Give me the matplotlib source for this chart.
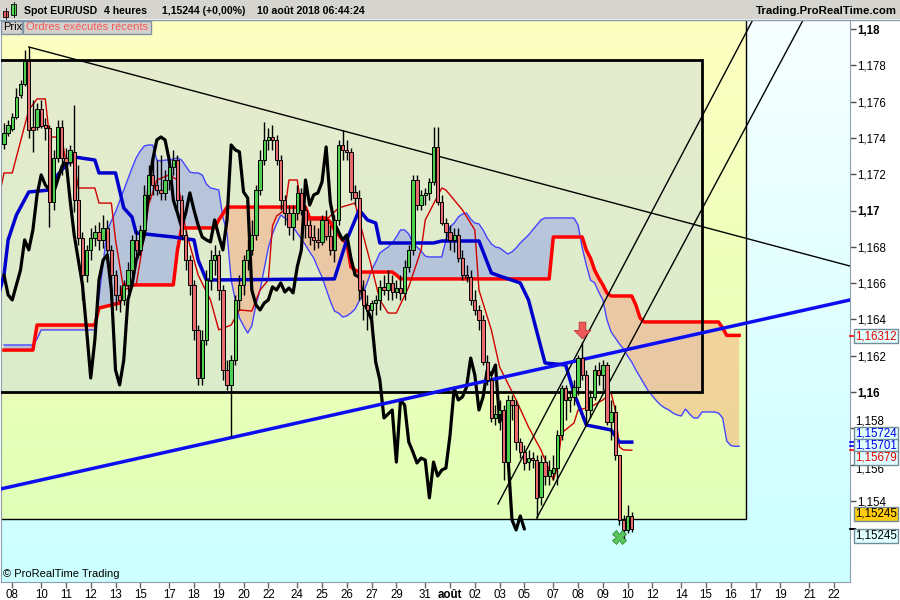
import numpy as np
import matplotlib
matplotlib.use('Agg')
import matplotlib.pyplot as plt
from matplotlib.patches import Rectangle
from matplotlib.lines import Line2D
from matplotlib.path import Path

plt.rcParams['font.family'] = ['Liberation Sans', 'DejaVu Sans']

# ------------------------------------------------------------------ data
# 4h candles, index 0 = first visible candle (6 Jul 2018) ... 152 = current (10 Aug 06:00)
open_ = [1.17367,1.17427,1.17449,1.17515,1.17637,1.17697,1.17824,1.17460,1.17460,1.17559,
         1.17471,1.17455,1.17047,1.17290,1.17460,1.17290,1.17267,1.17323,1.17058,1.16849,
         1.16645,1.16783,1.16849,1.16882,1.16838,1.16904,1.16783,1.16645,1.16535,1.16507,
         1.16590,1.16672,1.16838,1.16783,1.16893,1.17086,1.17196,1.17141,1.17113,1.17097,
         1.17168,1.17240,1.17278,1.17058,1.16865,1.16727,1.16590,1.16342,1.16077,1.16287,
         1.16617,1.16727,1.16755,1.16562,1.16121,1.16039,1.16176,1.16507,1.16590,1.16727,
         1.16783,1.16865,1.17113,1.17278,1.17389,1.17405,1.17389,1.17278,1.17058,1.16986,
         1.16909,1.16986,1.17097,1.17003,1.16920,1.16854,1.16838,1.16827,1.16948,1.16860,
         1.16783,1.16948,1.17361,1.17334,1.17323,1.17102,1.17069,1.16562,1.16480,1.16452,
         1.16490,1.16507,1.16579,1.16562,1.16601,1.16551,1.16573,1.16546,1.16689,1.16783,
         1.17168,1.17030,1.17086,1.17097,1.17157,1.17350,1.17047,1.16931,1.16882,1.16838,
         1.16865,1.16738,1.16645,1.16634,1.16507,1.16452,1.16397,1.16165,1.16066,1.15857,
         1.15879,1.15901,1.15614,1.15956,1.15928,1.15725,1.15670,1.15614,1.15636,1.15625,
         1.15422,1.15614,1.15537,1.15554,1.15581,1.15763,1.16022,1.15956,1.15973,1.16028,
         1.16187,1.16094,1.15901,1.15973,1.16121,1.16094,1.16149,1.15835,1.15890,1.15653,
         1.15295,1.15240,1.15317]
high = [1.17482,1.17499,1.17537,1.17675,1.17719,1.17884,1.17901,1.17609,1.17592,1.17609,
        1.17510,1.17471,1.17334,1.17499,1.17499,1.17345,1.17361,1.17581,1.17251,1.16882,
        1.16810,1.16904,1.16920,1.16937,1.16975,1.16948,1.16810,1.16672,1.16590,1.16617,
        1.16716,1.16865,1.16893,1.16920,1.17141,1.17251,1.17290,1.17278,1.17306,1.17223,
        1.17278,1.17334,1.17306,1.17086,1.16893,1.16755,1.16617,1.16369,1.16342,1.16672,
        1.16783,1.16810,1.16783,1.16590,1.16176,1.16204,1.16535,1.16645,1.16755,1.16838,
        1.16948,1.17141,1.17334,1.17488,1.17455,1.17471,1.17416,1.17306,1.17086,1.17030,
        1.17030,1.17141,1.17124,1.17030,1.16948,1.16920,1.16904,1.16975,1.17003,1.16920,
        1.16975,1.17389,1.17444,1.17389,1.17345,1.17141,1.17113,1.16617,1.16535,1.16507,
        1.16535,1.16617,1.16645,1.16672,1.16645,1.16617,1.16645,1.16727,1.16810,1.17196,
        1.17196,1.17113,1.17124,1.17179,1.17460,1.17460,1.17086,1.16959,1.16920,1.16904,
        1.16904,1.16783,1.16700,1.16672,1.16562,1.16480,1.16424,1.16204,1.16094,1.15928,
        1.15956,1.15928,1.15983,1.15983,1.15956,1.15747,1.15708,1.15681,1.15670,1.15653,
        1.15653,1.15653,1.15625,1.15653,1.15791,1.16039,1.16039,1.16011,1.16066,1.16204,
        1.16276,1.16121,1.16011,1.16149,1.16165,1.16176,1.16165,1.15956,1.15928,1.15653,
        1.15323,1.15378,1.15339]
low = [1.17339,1.17411,1.17438,1.17504,1.17620,1.17686,1.17400,1.17323,1.17444,1.17455,
       1.17389,1.16909,1.17003,1.17267,1.17196,1.17223,1.17245,1.16992,1.16810,1.16507,
       1.16606,1.16727,1.16805,1.16783,1.16794,1.16716,1.16507,1.16452,1.16441,1.16480,
       1.16551,1.16645,1.16716,1.16755,1.16865,1.17058,1.17086,1.17086,1.17058,1.17058,
       1.17113,1.17196,1.17003,1.16838,1.16672,1.16535,1.16287,1.16039,1.16039,1.16259,
       1.16562,1.16645,1.16507,1.16066,1.16011,1.15752,1.16149,1.16452,1.16535,1.16672,
       1.16755,1.16838,1.17086,1.17251,1.17334,1.17334,1.17251,1.17003,1.16920,1.16865,
       1.16838,1.16948,1.16975,1.16849,1.16810,1.16783,1.16794,1.16810,1.16838,1.16755,
       1.16716,1.16920,1.17278,1.17278,1.17058,1.17030,1.16507,1.16397,1.16342,1.16342,
       1.16424,1.16452,1.16535,1.16507,1.16507,1.16518,1.16507,1.16507,1.16661,1.16755,
       1.17003,1.17003,1.17030,1.17058,1.17141,1.17030,1.16920,1.16838,1.16783,1.16772,
       1.16716,1.16617,1.16606,1.16480,1.16424,1.16342,1.16149,1.16039,1.15835,1.15818,
       1.15791,1.15515,1.15570,1.15846,1.15681,1.15636,1.15570,1.15570,1.15581,1.15306,
       1.15378,1.15488,1.15488,1.15515,1.15488,1.15736,1.15846,1.15890,1.15928,1.15983,
       1.16066,1.15818,1.15857,1.15956,1.16039,1.16011,1.15818,1.15736,1.15625,1.15267,
       1.15185,1.15223,1.15229]
close = [1.17427,1.17471,1.17515,1.17626,1.17697,1.17824,1.17444,1.17444,1.17559,1.17466,
         1.17455,1.17047,1.17290,1.17460,1.17290,1.17267,1.17334,1.17058,1.16849,1.16645,
         1.16783,1.16849,1.16882,1.16838,1.16904,1.16783,1.16645,1.16535,1.16507,1.16590,
         1.16672,1.16838,1.16783,1.16893,1.17086,1.17196,1.17141,1.17113,1.17097,1.17168,
         1.17240,1.17278,1.17058,1.16865,1.16727,1.16590,1.16342,1.16077,1.16287,1.16617,
         1.16727,1.16755,1.16562,1.16121,1.16039,1.16176,1.16507,1.16590,1.16727,1.16783,
         1.16865,1.17113,1.17278,1.17389,1.17405,1.17389,1.17278,1.17058,1.16986,1.16909,
         1.16986,1.17097,1.17003,1.16920,1.16854,1.16838,1.16827,1.16948,1.16860,1.16783,
         1.16948,1.17361,1.17334,1.17323,1.17102,1.17069,1.16562,1.16480,1.16452,1.16490,
         1.16507,1.16579,1.16562,1.16601,1.16551,1.16573,1.16546,1.16689,1.16783,1.17168,
         1.17030,1.17086,1.17097,1.17157,1.17350,1.17047,1.16931,1.16882,1.16838,1.16865,
         1.16738,1.16645,1.16634,1.16507,1.16452,1.16397,1.16165,1.16066,1.15857,1.15879,
         1.15901,1.15614,1.15956,1.15928,1.15725,1.15670,1.15609,1.15636,1.15625,1.15417,
         1.15614,1.15537,1.15570,1.15581,1.15763,1.16022,1.15956,1.15973,1.16028,1.16187,
         1.16094,1.15901,1.15973,1.16121,1.16094,1.16149,1.15835,1.15890,1.15653,1.15295,
         1.15240,1.15317,1.15245]

# Ichimoku: Tenkan (thin red) and Kijun (thick blue) as read vertices (candle index, price)
tenkan_idx = [-1,0,2,6,8,10,11,14,15,17,18,22,23,26,27,29,32,34,35,37,40,42,44,47,50,52,55,57,60,62,
              64,65,66,68,69,71,72,73,78,81,85,86,89,91,93,95,98,101,102,106,107,109,111,114,115,118,
              120,124,127,130,133,134,135,138,139,142,145,147,148,149,150,152]
tenkan_val = [1.17097,1.17207,1.17207,1.17554,1.17615,1.17615,1.17405,1.17405,1.17262,1.17262,
              1.17124,1.17124,1.17041,1.17041,1.16838,1.16562,1.16590,1.16865,1.17030,1.17168,
              1.17196,1.17168,1.16893,1.16645,1.16507,1.16342,1.16369,1.16452,1.16446,1.16562,
              1.16617,1.16915,1.16970,1.17003,1.17168,1.17168,1.17019,1.16948,1.16948,1.17014,
              1.17041,1.16948,1.16689,1.16507,1.16435,1.16435,1.16579,1.16783,1.16948,1.17124,
              1.17113,1.17058,1.17003,1.16893,1.16562,1.16342,1.16138,1.15956,1.15807,1.15681,
              1.15515,1.15587,1.15774,1.15829,1.15901,1.15917,1.15956,1.15995,1.15901,1.15697,
              1.15681,1.15679]
kijun_idx = [-1,0,1,3,6,11,12,15,17,22,23,27,29,31,32,41,46,47,49,80,83,86,88,90,91,104,106,115,118,
             120,125,127,131,136,138,141,147,149,152]
kijun_val = [1.16562,1.16645,1.16838,1.16975,1.17102,1.17113,1.17168,1.17251,1.17295,1.17278,
             1.17207,1.17207,1.17014,1.16964,1.16876,1.16854,1.16838,1.16727,1.16617,1.16623,
             1.16838,1.17003,1.16948,1.16931,1.16821,1.16821,1.16832,1.16832,1.16656,1.16639,
             1.16601,1.16507,1.16160,1.16149,1.15995,1.15818,1.15791,1.15724,1.15724]

# Senkou spans per candle, index 0..178 (26 candles ahead of the last one)
span_a = ([1.16259] * 8 + [1.16292] + [1.16342] * 14 +
          [1.16524,1.16711,1.16893,1.16942,1.16992,1.17052,1.17113,1.17174,1.17234,1.17290,
           1.17328,1.17356,1.17361,1.17361,1.17278,1.17273,1.17278,1.17278,1.17284,1.17290,
           1.17278,1.17245,1.17212,1.17207,1.17207,1.17196,1.17146,1.17124,1.17119,1.17113,
           1.16964,1.16876,1.16617,1.16507,1.16408,1.16364,1.16325,1.16364,1.16480,1.16562,
           1.16678,1.16794,1.16871,1.16926,1.16975,1.16959,1.16937,1.16909,1.16876,1.16843,
           1.16810,1.16772,1.16738,1.16683,1.16634,1.16568,1.16501,1.16446,1.16435,1.16413,
           1.16419,1.16435,1.16457,1.16501,1.16546,1.16606,1.16672,1.16716,1.16766,1.16783,
           1.16799,1.16821,1.16854,1.16893,1.16893,1.16871,1.16821,1.16799,1.16777,1.16749,
           1.16744,1.16744,1.16744,1.16744,1.16838,1.16909,1.16931,1.16964,1.16981,1.16986,
           1.16953,1.16931,1.16926,1.16893,1.16849,1.16816,1.16799,1.16794,1.16777,1.16760,
           1.16772,1.16794,1.16821,1.16843,1.16865,1.16893,1.16920,1.16948] +
          [1.16959] * 8 +
          [1.16920,1.16794,1.16700,1.16617,1.16601,1.16551,1.16507,1.16397,1.16331,1.16298,
           1.16265,1.16237,1.16198,1.16165,1.16121,1.16083,1.16044,1.16006,1.15978,1.15951,
           1.15928,1.15912,1.15901,1.15884,1.15873,1.15868,1.15906,1.15879] +
          [1.15857] * 2 + [1.15890] * 4 + [1.15884, 1.15857, 1.15730, 1.15705, 1.15701, 1.15701])
span_b = ([1.16231] * 8 + [1.16369] * 15 +
          [1.16463,1.16468,1.16474,1.16479,1.16485,1.16490] + [1.16590] * 13 + [1.16782] +
          [1.16904] * 9 + [1.16948, 1.16981] + [1.17019] * 20 + [1.16959] * 5 +
          [1.16937,1.16893,1.16865,1.16837,1.16821,1.16689,1.16672] + [1.16661] * 9 + [1.16645] +
          [1.16623] * 37 + [1.16854] * 8 +
          [1.16782,1.16738,1.16672,1.16628,1.16590,1.16545] + [1.16529] * 6 + [1.16479, 1.16408] +
          [1.16386] * 19 + [1.16353] + [1.16312] * 4)

# drawings (candle index, price)
trend_down = ([6, 205], [1.17901, 1.16693])
trend_up_blue = ([-1, 205], [1.15465, 1.16508])
channel_1 = ([119.6, 185], [1.15383, 1.18210])
channel_2 = ([129, 197], [1.15306, 1.18199])
zone_box = (1.1600, 1.1783, 169.0)          # bottom, top, right edge
yellow_zone = (1.1530, 179.66)              # bottom, right edge
arrow_at = (140, 1.16342)
cross_at = (149, 1.15200)

tick_labels = ['08','10','11','12','13','15','17','18','19','20','22','24','25','26','27','29','31','août',
               '02','03','05','07','08','09','10','12','14','15','16','17','19','21','22']
tick_index = [2,9,15,21,27,33,40,46,52,58,64,71,77,83,89,95,102,108,114,120,126,133,139,145,151,157,164,
              170,176,182,188,195,201]
price_ticks = [1.154,1.156,1.158,1.160,1.162,1.164,1.166,1.168,1.170,1.172,1.174,1.176,1.178,1.180]

# ------------------------------------------------------------------ figure
W, H = 900, 600
fig = plt.figure(figsize=(9, 6), dpi=100)
fig.patch.set_facecolor('white')
AX_L, AX_R, AX_T, AX_B = 1, 850, 20, 582
ax = fig.add_axes([AX_L / W, 1 - AX_B / H, (AX_R - AX_L) / W, (AX_B - AX_T) / H])

XMIN, XMAX = -0.726, 204.84
YMIN, YMAX = 1.149532, 1.180496

cyan = np.linspace([0.97, 1.0, 1.0], [0.80, 1.0, 1.0], 200).reshape(200, 1, 3)
ax.imshow(cyan, extent=[XMIN, XMAX, YMIN, YMAX], aspect='auto', zorder=0, interpolation='bilinear')
yb, yr = yellow_zone
yel = np.linspace([1.0, 1.0, 0.76], [0.88, 1.0, 0.72], 200).reshape(200, 1, 3)
ax.imshow(yel, extent=[XMIN - 2, yr, yb, YMAX + 0.001], aspect='auto', zorder=0.5, interpolation='bilinear')
ax.plot([XMIN - 2, yr, yr], [yb, yb, YMAX + 0.01], color='black', lw=1, zorder=0.6)

zb, zt, zr = zone_box
ax.add_patch(Rectangle((XMIN - 3, zb), zr - XMIN + 3, zt - zb,
                       facecolor=(0.80, 0.84, 0.88), alpha=0.45, edgecolor='none', zorder=0.7))
ax.add_patch(Rectangle((XMIN - 3, zb), zr - XMIN + 3, zt - zb,
                       facecolor='none', edgecolor='black', lw=2, zorder=3))

# cloud
sidx = np.arange(len(span_a))
sa = np.array(span_a)
sb = np.array(span_b)
ax.fill_between(sidx, sa, sb, where=sa >= sb, interpolate=True, color=(0.42, 0.48, 0.95), alpha=0.35,
                lw=0, zorder=1)
ax.fill_between(sidx, sa, sb, where=sa < sb, interpolate=True, color=(1.0, 0.58, 0.42), alpha=0.40,
                lw=0, zorder=1)
ax.plot(sidx, sa, color=(0.27, 0.27, 1.0), lw=1, zorder=2)
ax.plot(sidx, sb, color=(1.0, 0.0, 0.0), lw=2.5, zorder=2.2)

ax.plot(tenkan_idx, tenkan_val, color=(0.82, 0, 0), lw=1, zorder=2.5)
ax.plot(kijun_idx, kijun_val, color=(0, 0, 0.8), lw=2.5, zorder=2.6)

# chikou span: closes drawn 26 candles back
cl = np.array(close)
n = len(cl)
idx = np.arange(n)
ax.plot(idx[:-26], cl[26:], color='black', lw=2.3, zorder=2.7, solid_joinstyle='round',
        solid_capstyle='round')

# candles
op = np.array(open_)
hi = np.array(high)
lo = np.array(low)
up = cl >= op
ax.vlines(idx, lo, hi, color='black', lw=1, zorder=4)
ax.bar(idx, np.maximum(np.abs(cl - op), 0.00003), bottom=np.minimum(op, cl), width=0.8,
       color=np.where(up, '#4fcf4f', '#e86a6a'), edgecolor='black', linewidth=0.7, zorder=5)

# drawings
ax.plot(*trend_down, color='black', lw=1, zorder=3.5)
ax.plot(*trend_up_blue, color=(0.05, 0.05, 0.95), lw=2.5, zorder=3.6)
ax.plot(*channel_1, color='black', lw=1, zorder=3.5)
ax.plot(*channel_2, color='black', lw=1, zorder=3.5)

arrow_path = Path([(-0.2, 0.5), (0.2, 0.5), (0.2, 0.0), (0.5, 0.0), (0.0, -0.5), (-0.5, 0.0),
                   (-0.2, 0.0), (-0.2, 0.5)])
ax.plot(arrow_at[0], arrow_at[1], marker=arrow_path, ms=12, color=(0.93, 0.35, 0.35),
        mec=(0.75, 0.2, 0.2), mew=0.6, zorder=6)
ax.plot(cross_at[0], cross_at[1], marker='X', ms=10, color=(0.35, 0.78, 0.35), mec=(0.2, 0.55, 0.2),
        mew=0.6, zorder=6)

ax.set_xlim(XMIN, XMAX)
ax.set_ylim(YMIN, YMAX)

# axes
def fx(px): return px / W
def fy(py): return 1 - py / H

for s in ax.spines.values():
    s.set_color((0.55, 0.62, 0.68))
ax.spines['top'].set_visible(False)
ax.yaxis.tick_right()
ax.set_yticks(price_ticks)
ylabels = [('%.3f' % v).rstrip('0').replace('.', ',') for v in price_ticks]
hidden = {'1,158': 422, '1,156': 470}     # partly covered by the price boxes: drawn just clear of them
ax.set_yticklabels(['' if t in hidden else t for t in ylabels])
for lab, v in zip(ax.get_yticklabels(), price_ticks):
    if abs(v * 100 - round(v * 100)) < 1e-6:
        lab.set_fontweight('bold')
ax.tick_params(axis='y', length=4, width=1, color=(0.3, 0.3, 0.3), labelsize=8.3, pad=1)
for t, py in hidden.items():
    fig.text(fx(855.5), fy(py), t, fontsize=8.3, va='center', ha='left')
ax.set_xticks(tick_index)
ax.set_xticklabels(tick_labels)
for lab in ax.get_xticklabels():
    if lab.get_text() == 'août':
        lab.set_fontweight('bold')
ax.tick_params(axis='x', length=4, width=1, color=(0.4, 0.4, 0.4), labelsize=8.3, pad=1)

# header
fig.patches.append(Rectangle((0, fy(19)), 1, 19 / H, transform=fig.transFigure, facecolor=(0.84, 0.83, 0.81),
                             edgecolor='none', zorder=0))
fig.add_artist(Line2D([0, 1], [fy(19.5)] * 2, color=(0.55, 0.62, 0.68), lw=1))
hdr = dict(fontsize=7.6, fontweight='bold', va='center', ha='left')
fig.text(fx(24), fy(10.5), 'Spot EUR/USD', **hdr)
fig.text(fx(104), fy(10.5), '4 heures', **hdr)
fig.text(fx(162), fy(10.5), '1,15244 (+0,00%)', **hdr)
fig.text(fx(257), fy(10.5), '10 août 2018 06:44:24', **hdr)
fig.text(fx(897), fy(10.5), 'Trading.ProRealTime.com', fontsize=8.2, fontweight='bold', va='center', ha='right')
fig.add_artist(Line2D([fx(5.5)] * 2, [fy(19), fy(8)], color='black', lw=0.6))
fig.add_artist(Rectangle((fx(3), fy(17)), 5 / W, 6 / H, transform=fig.transFigure, fc=(0.9, 0.35, 0.35),
                         ec='black', lw=0.6))
fig.add_artist(Line2D([fx(13.5)] * 2, [fy(17), fy(2)], color='black', lw=0.6))
fig.add_artist(Rectangle((fx(11), fy(15)), 5 / W, 11 / H, transform=fig.transFigure, fc=(0.3, 0.85, 0.3),
                         ec='black', lw=0.6))

# tabs
fig.add_artist(Rectangle((fx(1), fy(34)), 21 / W, 13 / H, transform=fig.transFigure, fc=(0.83, 0.82, 0.8),
                         ec=(0.5, 0.58, 0.65), lw=1, zorder=10))
fig.text(fx(3), fy(27.5), 'Prix', fontsize=8, va='center', ha='left', zorder=11)
fig.add_artist(Rectangle((fx(23), fy(34)), 128 / W, 13 / H, transform=fig.transFigure, fc=(0.83, 0.82, 0.8),
                         ec=(0.5, 0.58, 0.65), lw=1, zorder=10))
fig.text(fx(25.5), fy(27.5), 'Ordres exécutés récents', fontsize=8, color=(0.95, 0.35, 0.35), va='center',
         ha='left', zorder=11)
fig.text(fx(3), fy(574), '© ProRealTime Trading', fontsize=8, va='center', ha='left')

# price boxes on the right scale
def pbox(py, text, color, fc, tick_py, tick_color):
    fig.add_artist(Line2D([fx(850), fx(855)], [fy(tick_py)] * 2, color=tick_color, lw=1.2, zorder=12))
    fig.text(fx(855), fy(py), text, fontsize=8.3, color=color, va='center', ha='left', zorder=12,
             bbox=dict(boxstyle='square,pad=0.1', fc=fc, ec=(0.45, 0.55, 0.6), lw=1))
pbox(336, '1,16312', (0.9, 0, 0), (0.88, 1, 1), 336, 'red')
pbox(434, '1,15724', (0, 0, 0.9), (0.88, 1, 1), 442, 'blue')
pbox(446, '1,15701', (0, 0, 0.9), (0.88, 1, 1), 446, 'blue')
pbox(458, '1,15679', (0.9, 0, 0), (0.88, 1, 1), 450, 'red')
pbox(514, '1,15245', 'black', (1.0, 0.8, 0.05), 529, 'black')
pbox(536, '1,15245', 'black', (0.88, 1, 1), 529, 'black')

fig.savefig('out.png', dpi=100)
